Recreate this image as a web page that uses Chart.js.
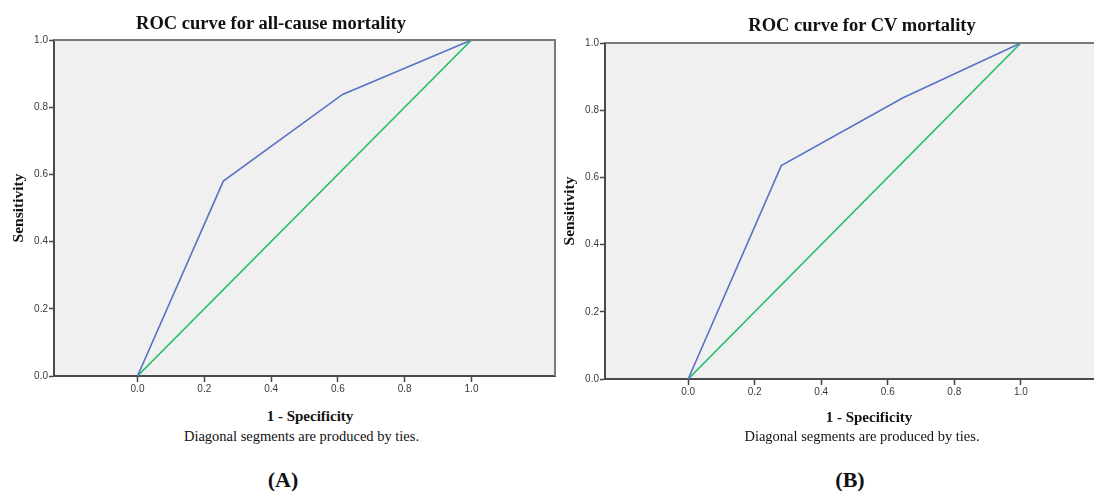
<!DOCTYPE html>
<html>
<head>
<meta charset="utf-8">
<script src="https://cdn.jsdelivr.net/npm/chart.js@4.4.0/dist/chart.umd.min.js"></script>
<style>
  html, body { margin: 0; padding: 0; background: #ffffff; overflow: hidden; }
  body { width: 1094px; height: 491px; position: relative; }
  .cv { position: absolute; top: 0; }
  .txt { position: absolute; width: 500px; text-align: center; line-height: 1; white-space: nowrap;
         font-family: "Liberation Serif", "Times New Roman", serif; color: #111; }
  .b { font-weight: bold; }
</style>
</head>
<body>
<canvas id="chartA" class="cv" width="560" height="400" style="left:0px"></canvas>
<canvas id="chartB" class="cv" width="560" height="403" style="left:551px"></canvas>

<div class="txt b" style="left:21px; top:13.5px; font-size:18.5px;">ROC curve for all-cause mortality</div>
<div class="txt b" style="left:612px; top:15.5px; font-size:18.5px;">ROC curve for CV mortality</div>

<div class="txt b" style="left:60px; top:408.5px; font-size:15px;">1 - Specificity</div>
<div class="txt b" style="left:619px; top:409.5px; font-size:15px;">1 - Specificity</div>

<div class="txt" style="left:51.5px; top:428.6px; font-size:14.5px;">Diagonal segments are produced by ties.</div>
<div class="txt" style="left:612px; top:428.9px; font-size:14.5px;">Diagonal segments are produced by ties.</div>

<div class="txt b" style="left:33px; top:469px; font-size:22px;">(A)</div>
<div class="txt b" style="left:600px; top:469px; font-size:22px;">(B)</div>

<script>
// ---- data ----
const xTickValues = [0.0, 0.2, 0.4, 0.6, 0.8, 1.0];
const yTickValues = [0.0, 0.2, 0.4, 0.6, 0.8, 1.0];

// Panel A: all-cause mortality
const rocA_fpr = [0.0, 0.257, 0.614, 1.0];
const rocA_tpr = [0.0, 0.580, 0.838, 1.0];
// Panel B: CV mortality
const rocB_fpr = [0.0, 0.280, 0.646, 1.0];
const rocB_tpr = [0.0, 0.635, 0.837, 1.0];
// reference diagonal
const diag_fpr = [0.0, 1.0];
const diag_tpr = [0.0, 1.0];

const yAxisTitle = "Sensitivity";

function pts(xs, ys) { return xs.map((x, i) => ({ x: x, y: ys[i] })); }

const plotBg = {
  id: 'plotBg',
  beforeDraw(chart) {
    const { ctx, chartArea: a } = chart;
    ctx.save();
    ctx.fillStyle = '#f0f0f0';
    ctx.fillRect(a.left, a.top, a.right - a.left, a.bottom - a.top);
    ctx.restore();
  },
  afterDraw(chart) {
    const { ctx, chartArea: a } = chart;
    ctx.save();
    ctx.strokeStyle = '#7a7a7a';
    ctx.lineWidth = 2;
    ctx.beginPath();
    ctx.moveTo(a.left, a.top);
    ctx.lineTo(a.right, a.top);
    ctx.lineTo(a.right, a.bottom);
    ctx.stroke();
    ctx.restore();
  }
};

function makeChart(id, fpr, tpr, padRight, padTop) {
  const tickFont = { family: '"Liberation Sans", Arial, sans-serif', size: 10 };
  return new Chart(document.getElementById(id), {
    type: 'line',
    data: {
      datasets: [
        { data: pts(fpr, tpr), borderColor: '#5a72c6', borderWidth: 1.6, pointRadius: 0, tension: 0, fill: false },
        { data: pts(diag_fpr, diag_tpr), borderColor: '#1fbf68', borderWidth: 1.6, pointRadius: 0, tension: 0, fill: false }
      ]
    },
    options: {
      responsive: false,
      animation: false,
      devicePixelRatio: 1,
      layout: { padding: { left: 0, right: padRight, top: padTop, bottom: 0 } },
      plugins: { legend: { display: false }, tooltip: { enabled: false }, title: { display: false } },
      scales: {
        x: {
          type: 'linear', min: -0.25, max: 1.25,
          afterBuildTicks(s) { s.ticks = xTickValues.map(v => ({ value: v })); },
          afterFit(s) { s.height = 24; },
          ticks: { font: tickFont, color: '#3a3a3a', padding: 1, maxRotation: 0,
                   callback: v => Number(v).toFixed(1) },
          grid: { drawOnChartArea: false, drawTicks: true, tickLength: 6, tickColor: '#444', tickWidth: 1.5 },
          border: { display: true, color: '#4a4a4a', width: 2 }
        },
        y: {
          type: 'linear', min: 0, max: 1,
          afterBuildTicks(s) { s.ticks = yTickValues.map(v => ({ value: v })); },
          afterFit(s) { s.width = 54; },
          ticks: { font: tickFont, color: '#3a3a3a', padding: 1,
                   callback: v => Number(v).toFixed(1) },
          grid: { drawOnChartArea: false, drawTicks: true, tickLength: 5, tickColor: '#444', tickWidth: 1.5 },
          border: { display: true, color: '#4a4a4a', width: 2 },
          title: { display: true, text: yAxisTitle, color: '#111',
                   font: { family: '"Liberation Serif", "Times New Roman", serif', size: 15.5, weight: 'bold' },
                   padding: { top: 10, bottom: 0 } }
        }
      }
    },
    plugins: [plotBg]
  });
}

makeChart('chartA', rocA_fpr, rocA_tpr, 5, 40);
makeChart('chartB', rocB_fpr, rocB_tpr, 7, 43);
</script>
</body>
</html>
